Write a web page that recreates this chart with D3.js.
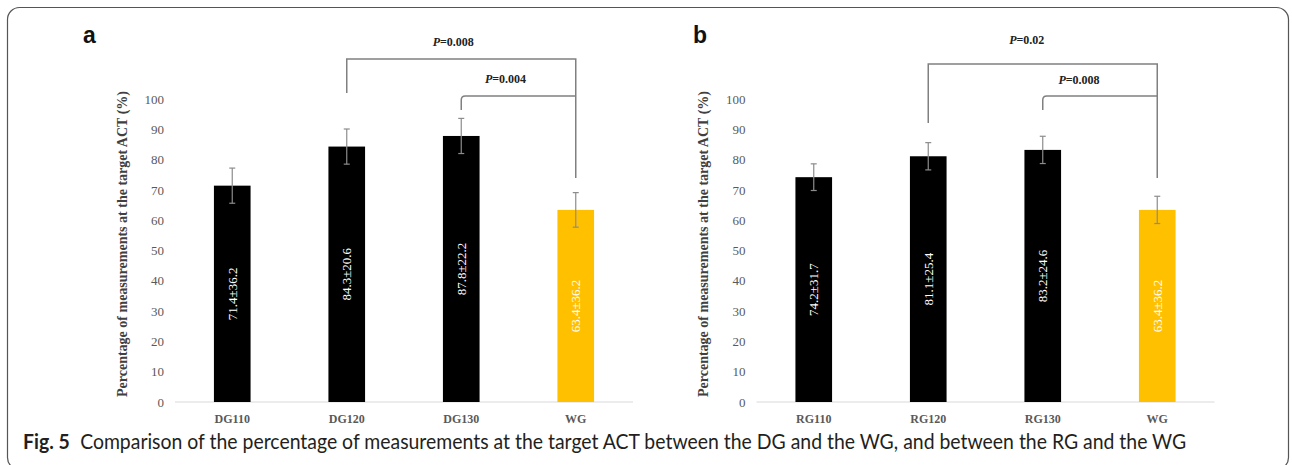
<!DOCTYPE html>
<html>
<head>
<meta charset="utf-8">
<script src="https://cdn.jsdelivr.net/npm/d3@7"></script>
<style>
  html, body { margin: 0; padding: 0; background: #fff; }
  svg { display: block; }
</style>
</head>
<body>
<svg id="chart" width="1292" height="465"></svg>
<script>
// ---------- data ----------
const categoriesA = ["DG110", "DG120", "DG130", "WG"];
const valuesA = [71.4, 84.3, 87.8, 63.4];
const errorsA = [5.8, 5.8, 5.8, 5.7];
const barLabelsA = ["71.4±36.2", "84.3±20.6", "87.8±22.2", "63.4±36.2"];

const categoriesB = ["RG110", "RG120", "RG130", "WG"];
const valuesB = [74.2, 81.1, 83.2, 63.4];
const errorsB = [4.4, 4.5, 4.5, 4.5];
const barLabelsB = ["74.2±31.7", "81.1±25.4", "83.2±24.6", "63.4±36.2"];

const yTicks = [0, 10, 20, 30, 40, 50, 60, 70, 80, 90, 100];

const comparisonsA = [
  { from: "DG120", to: "WG", p: "0.008" },
  { from: "DG130", to: "WG", p: "0.004" }
];
const comparisonsB = [
  { from: "RG120", to: "WG", p: "0.02" },
  { from: "RG130", to: "WG", p: "0.008" }
];

const yTitle = "Percentage of measurements at the target ACT (%)";
const captionBold = "Fig. 5";
const captionText = "Comparison of the percentage of measurements at the target ACT between the DG and the WG, and between the RG and the WG";

// ---------- layout ----------
const svg = d3.select("#chart");
const serif = "'Liberation Serif', 'Times New Roman', serif";

// frame
svg.append("rect")
  .attr("x", 7.5).attr("y", 7.5)
  .attr("width", 1281).attr("height", 462)
  .attr("rx", 12).attr("ry", 12)
  .attr("fill", "none").attr("stroke", "#555").attr("stroke-width", 1.2);

const panels = [
  { letter: "a", letterX: 83, cats: categoriesA, vals: valuesA, errs: errorsA, labels: barLabelsA,
    comps: comparisonsA, x0: 175, x1: 633, titleX: 122,
    br: [ { top: 59, leftBottom: 93, textY: 46, dx: -8 },
          { top: 96, leftBottom: 110, textY: 83, dx: -13 } ] },
  { letter: "b", letterX: 693, cats: categoriesB, vals: valuesB, errs: errorsB, labels: barLabelsB,
    comps: comparisonsB, x0: 756.5, x1: 1214.5, titleX: 703,
    br: [ { top: 64, leftBottom: 123, textY: 44, dx: -16 },
          { top: 96, leftBottom: 110, textY: 84, dx: -21 } ] }
];

const y = d3.scaleLinear().domain([0, 100]).range([402, 99]);
const rightBottom = 178;

panels.forEach(p => {
  const g = svg.append("g");
  const x = d3.scaleBand().domain(p.cats).range([p.x0, p.x1])
    .paddingInner(0.68).paddingOuter(0.34);
  const cx = c => x(c) + x.bandwidth() / 2;

  // panel letter
  g.append("text").attr("x", p.letterX).attr("y", 43)
    .attr("font-family", "'Liberation Sans', Arial, sans-serif")
    .attr("font-weight", "bold").attr("font-size", 23)
    .attr("fill", "#111").text(p.letter);

  // y axis ticks
  const yAxis = d3.axisLeft(y).tickValues(yTicks).tickSize(0).tickPadding(11);
  const ag = g.append("g").attr("transform", `translate(${p.x0},0)`).call(yAxis);
  ag.select(".domain").remove();
  ag.selectAll("text").attr("font-family", serif).attr("font-size", 13).attr("fill", "#595959");

  // baseline
  g.append("line").attr("x1", p.x0).attr("x2", p.x1)
    .attr("y1", y(0)).attr("y2", y(0))
    .attr("stroke", "#d9d9d9").attr("stroke-width", 1.2);

  // x axis labels
  const xAxis = d3.axisBottom(x).tickSize(0).tickPadding(12);
  const xg = g.append("g").attr("transform", `translate(0,${y(0)})`).call(xAxis);
  xg.select(".domain").remove();
  xg.selectAll("text").attr("font-family", serif).attr("font-size", 12)
    .attr("font-weight", "bold").attr("fill", "#595959");

  // y title
  g.append("text")
    .attr("transform", `translate(${p.titleX},${(y(0) + 86) / 2}) rotate(-90)`)
    .attr("text-anchor", "middle").attr("dominant-baseline", "central")
    .attr("font-family", serif).attr("font-weight", "bold").attr("font-size", 14)
    .attr("fill", "#404040").text(yTitle);

  // bars
  const data = p.cats.map((c, i) => ({ c, v: p.vals[i], e: p.errs[i], l: p.labels[i], wg: c === "WG" }));
  g.selectAll("rect.bar").data(data).enter().append("rect")
    .attr("class", "bar")
    .attr("x", d => x(d.c)).attr("width", x.bandwidth())
    .attr("y", d => y(d.v)).attr("height", d => y(0) - y(d.v))
    .attr("fill", d => d.wg ? "#FFC000" : "#000");

  // error bars
  const eg = g.selectAll("g.err").data(data).enter().append("g").attr("class", "err")
    .attr("stroke", "#8c8c8c").attr("stroke-width", 1.2);
  eg.append("line").attr("x1", d => cx(d.c)).attr("x2", d => cx(d.c))
    .attr("y1", d => y(d.v + d.e)).attr("y2", d => y(d.v - d.e));
  eg.append("line").attr("x1", d => cx(d.c) - 3).attr("x2", d => cx(d.c) + 3)
    .attr("y1", d => y(d.v + d.e)).attr("y2", d => y(d.v + d.e));
  eg.append("line").attr("x1", d => cx(d.c) - 3).attr("x2", d => cx(d.c) + 3)
    .attr("y1", d => y(d.v - d.e)).attr("y2", d => y(d.v - d.e));

  // bar labels
  g.selectAll("text.bl").data(data).enter().append("text")
    .attr("class", "bl")
    .attr("transform", d => `translate(${cx(d.c)},${(y(d.v) + y(0)) / 2}) rotate(-90)`)
    .attr("text-anchor", "middle").attr("dominant-baseline", "central")
    .attr("font-family", serif).attr("font-size", 13)
    .attr("fill", "#fff").text(d => d.l);

  // significance brackets
  const bg = g.append("g").attr("fill", "none").attr("stroke", "#808080").attr("stroke-width", 1.5);
  p.comps.forEach((cmp, i) => {
    const b = p.br[i];
    const xl = cx(cmp.from), xr = cx(cmp.to);
    if (i === 0) {
      bg.append("path").attr("d", `M${xl},${b.leftBottom}V${b.top}H${xr}V${rightBottom}`);
    } else {
      bg.append("path").attr("d", `M${xl},${b.leftBottom}V${b.top + 4}Q${xl},${b.top} ${xl + 4},${b.top}H${xr}`);
    }
    const t = g.append("text")
      .attr("x", (xl + xr) / 2 + b.dx).attr("y", b.textY)
      .attr("text-anchor", "middle")
      .attr("font-family", serif).attr("font-weight", "bold").attr("font-size", 12)
      .attr("fill", "#222");
    t.append("tspan").attr("font-style", "italic").text("P");
    t.append("tspan").text("=" + cmp.p);
  });
});

// caption (condensed to match the narrow original typeface)
const capG = svg.append("g");
const cap = capG.append("text").attr("x", 0).attr("y", 0)
  .attr("font-family", "Lato, 'Open Sans', sans-serif").attr("font-size", 20.5)
  .attr("fill", "#231f20");
cap.append("tspan").attr("font-weight", "bold").text(captionBold);
cap.append("tspan").attr("dx", 11).text(captionText);
const targetW = 1187 - 23;
const w = cap.node().getComputedTextLength() + 11;
capG.attr("transform", `translate(23,449) scale(${targetW / w},1)`);
</script>
</body>
</html>
